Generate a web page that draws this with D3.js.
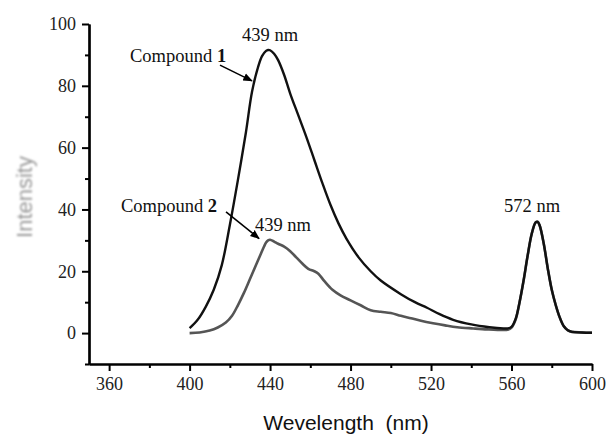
<!DOCTYPE html>
<html>
<head>
<meta charset="utf-8">
<script src="https://cdn.jsdelivr.net/npm/d3@7"></script>
<style>
  html, body { margin: 0; padding: 0; background: #fff; }
  svg { display: block; }
</style>
</head>
<body>
<div id="chart"></div>
<script>
// wavelength (nm) / intensity
const wl1 = [400,404,408,412,416,420,424,428,431,434,436,438,439,440,442,444,447,450,454,458,462,466,470,474,478,484,490,495,505,512,518,524,531,540,549,556,558,560,562,564,566,568,570,572,573,574,576,578,580,582,584,586,588,590,595,600];
const int1 = [1.6,4.3,8.5,14,22,35,49.5,65,78,86,89.6,91.3,91.6,91.5,90.4,88.3,83.5,77.5,70.5,63.5,56,48.5,41.5,35.5,30.5,24.5,20,17,12.6,10,8.2,6.2,4.3,2.8,1.9,1.5,1.5,2,4.5,10,17,25,32,35.8,36,34.8,29,21,14,9,5,2.2,0.9,0.4,0.2,0.1];

const wl2 = [400,405,410,414,418,421,424,427,430,433,435,437,438,439,440,442,444,447,450,453,456,459,462,464,467,471,475,480,485,490,495,500,505,510,515,521,527,533,541,548,556,558,560,562,564,566,568,570,572,573,574,576,578,580,582,584,586,588,590,595,600];
const int2 = [0,0.2,0.8,1.8,3.4,5.5,9,13,17.5,22,25,28,29.3,30,30.2,29.6,28.9,28,26.5,24.5,22.5,20.8,20,19.2,16.8,14,12.2,10.6,9,7.4,6.9,6.5,5.6,4.8,4,3.2,2.5,1.9,1.5,1.2,1,1.1,1.8,4.3,10,17,25,32,35.8,36,34.8,29,21,14,9,5,2.2,0.9,0.4,0.2,0.1];

const xMajor = [360,400,440,480,520,560,600];
const xMinor = [380,420,460,500,540,580];
const yMajor = [0,20,40,60,80,100];
const yMinor = [-10,10,30,50,70,90];

const W = 606, H = 434;
const serif = "'Liberation Serif','Times New Roman',serif";
const sans = "'Liberation Sans',Arial,sans-serif";

const svg = d3.select("#chart").append("svg")
  .attr("width", W).attr("height", H);

const x = d3.scaleLinear().domain([350, 600]).range([89, 592]);
const y = d3.scaleLinear().domain([-10, 100]).range([364, 24]);

const defs = svg.append("defs");
defs.append("marker")
  .attr("id", "arr")
  .attr("viewBox", "0 0 10 10")
  .attr("refX", 9).attr("refY", 5)
  .attr("markerWidth", 6).attr("markerHeight", 6)
  .attr("markerUnits", "strokeWidth")
  .attr("orient", "auto")
  .append("path").attr("d", "M0,1 L10,5 L0,9 Z").attr("fill", "#000");
defs.append("filter").attr("id", "blur")
  .append("feGaussianBlur").attr("stdDeviation", 0.9);

// ==== axes ====
function styleAxis(g) {
  g.select(".domain").attr("stroke", "#000").attr("stroke-width", 2.2);
  g.selectAll(".tick line").attr("stroke", "#000").attr("stroke-width", 2);
  g.selectAll(".tick text").attr("font-family", serif).attr("font-size", 18).attr("fill", "#222");
}

svg.append("g")
  .attr("transform", `translate(0,${y(-10)})`)
  .call(d3.axisBottom(x).tickValues(xMinor).tickSize(4).tickFormat("").tickSizeOuter(0))
  .call(styleAxis);
svg.append("g")
  .attr("transform", `translate(0,${y(-10)})`)
  .call(d3.axisBottom(x).tickValues(xMajor).tickSize(7).tickPadding(6).tickSizeOuter(0))
  .call(styleAxis);

svg.append("g")
  .attr("transform", `translate(${x(350)},0)`)
  .call(d3.axisLeft(y).tickValues(yMinor).tickSize(4).tickFormat("").tickSizeOuter(0))
  .call(styleAxis);
svg.append("g")
  .attr("transform", `translate(${x(350)},0)`)
  .call(d3.axisLeft(y).tickValues(yMajor).tickSize(7).tickPadding(6).tickSizeOuter(0))
  .call(styleAxis);

// ==== curves ====
const line = d3.line().x(d => x(d[0])).y(d => y(d[1])).curve(d3.curveCatmullRom.alpha(0.5));

svg.append("path")
  .datum(d3.zip(wl2, int2))
  .attr("fill", "none").attr("stroke", "#555").attr("stroke-width", 2.6)
  .attr("stroke-linejoin", "round")
  .attr("d", line);

svg.append("path")
  .datum(d3.zip(wl1, int1))
  .attr("fill", "none").attr("stroke", "#111").attr("stroke-width", 2.4)
  .attr("stroke-linejoin", "round")
  .attr("d", line);

// ==== annotations ====
function label(nm, v, txt, anchor) {
  return svg.append("text")
    .attr("x", x(nm)).attr("y", y(v))
    .attr("text-anchor", anchor || "middle")
    .attr("font-family", serif).attr("font-size", 18.5).attr("fill", "#111")
    .text(txt);
}
label(440, 94.5, "439 nm");
label(446.4, 33, "439 nm");
label(570.2, 39.2, "572 nm");

const c1 = label(370.4, 87.7, "Compound ", "start");
c1.append("tspan").attr("font-weight", "bold").text("1");
const c2 = label(365.9, 39.2, "Compound ", "start");
c2.append("tspan").attr("font-weight", "bold").text("2");

function arrow(a, b) {
  svg.append("line")
    .attr("x1", x(a[0])).attr("y1", y(a[1]))
    .attr("x2", x(b[0])).attr("y2", y(b[1]))
    .attr("stroke", "#000").attr("stroke-width", 1.6)
    .attr("marker-end", "url(#arr)");
}
arrow([415.1, 86.7], [431, 81.6]);
arrow([418.1, 39.2], [434.5, 30.6]);

// ==== axis titles ====
svg.append("text")
  .attr("transform", "translate(32,197) rotate(-90)")
  .attr("text-anchor", "middle")
  .attr("font-family", sans).attr("font-size", 22)
  .attr("fill", "#9a9a9a").attr("filter", "url(#blur)")
  .text("Intensity");

svg.append("text")
  .attr("x", 346).attr("y", 430)
  .attr("text-anchor", "middle")
  .attr("font-family", sans).attr("font-size", 21)
  .attr("fill", "#111")
  .style("white-space", "pre")
  .text("Wevelength  (nm)");
</script>
</body>
</html>
